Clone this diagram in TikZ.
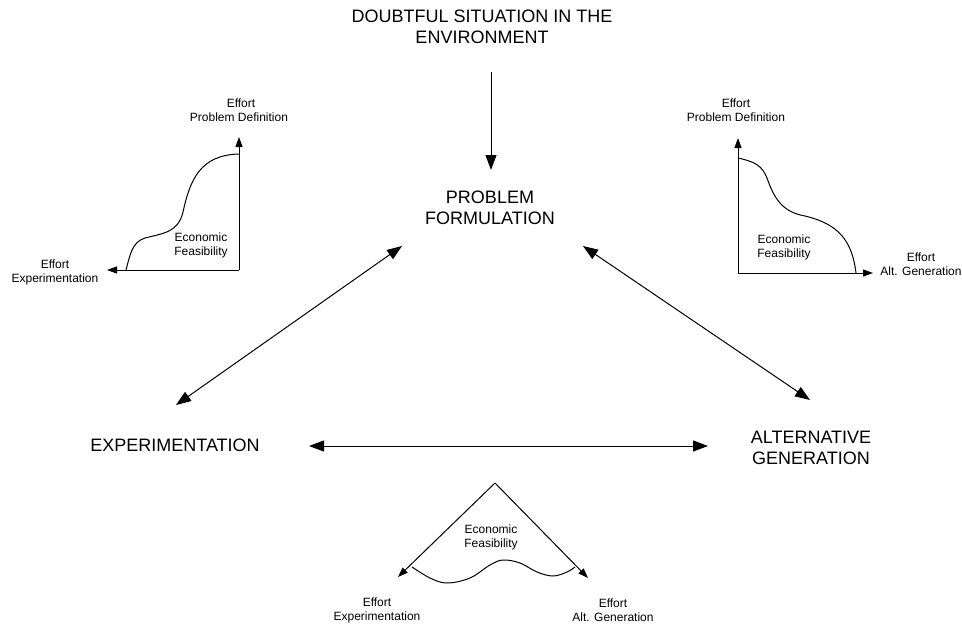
\documentclass[tikz,border=0pt]{standalone}
\usepackage{fontspec}
\setmainfont{Liberation Sans}
\usetikzlibrary{arrows.meta}
\begin{document}
\begin{tikzpicture}[x=1pt,y=-1pt,
  big/.style={font=\fontsize{18}{20.5}\selectfont, align=center, inner sep=0pt},
  small/.style={font=\fontsize{12}{14}\selectfont, align=center, inner sep=0pt},
  conn/.style={line width=1pt, {Triangle[length=15pt,width=11pt]}-{Triangle[length=15pt,width=11pt]}},
  oneway/.style={line width=1pt, -{Triangle[length=15pt,width=11pt]}},
  axis/.style={line width=1pt, -{Triangle[length=10pt,width=7pt]}},
  curve/.style={line width=1pt}]
\useasboundingbox[fill=white] (0,0) rectangle (962,626);

% main nodes
\node[big] (doubt) at (482,27) {DOUBTFUL SITUATION IN THE\\ENVIRONMENT};
\node[big] (pf) at (490,208) {PROBLEM\\FORMULATION};
\node[big] (exp) at (175,445) {EXPERIMENTATION};
\node[big] (alt) at (811,448) {ALTERNATIVE\\GENERATION};

% connector ends
\coordinate (d1) at (491,72);
\coordinate (p0) at (491,170);
\coordinate (e1) at (176,405);
\coordinate (p1) at (402,246);
\coordinate (p2) at (583,246);
\coordinate (a1) at (810,400);
\coordinate (e2) at (309,446);
\coordinate (a2) at (708,446);

\draw[oneway] (d1) -- (p0);
\draw[conn] (e1) -- (p1);
\draw[conn] (p2) -- (a1);
\draw[conn] (e2) -- (a2);

% left graph
\coordinate (o1) at (239,270);
\coordinate (o1y) at (239,137);
\coordinate (o1x) at (107,270);
\draw[axis] (o1) -- (o1y);
\draw[axis] (o1) -- (o1x);
\draw[curve] (126,270) .. controls (130,255) and (132,242) .. (145,238)
  .. controls (165,233) and (178,232) .. (183,212)
  .. controls (190,180) and (200,155) .. (239,154);
\node[small] (l1a) at (241,103) {Effort};
\node[small] (l1b) at (239,117) {Problem Definition};
\node[small] (l1c) at (201,245) {Economic\\Feasibility};
\node[small] (l1d) at (55,272.5) {Effort\\Experimentation};

% right graph
\coordinate (o2) at (738,273);
\coordinate (o2y) at (738,138);
\coordinate (o2x) at (873,273);
\draw[axis] (o2) -- (o2y);
\draw[axis] (o2) -- (o2x);
\draw[curve] (738,158) .. controls (756,162) and (762,166) .. (767,178)
  .. controls (774,198) and (782,212) .. (805,216)
  .. controls (838,224) and (852,240) .. (856,273);
\node[small] (r1a) at (736,103) {Effort};
\node[small] (r1b) at (736,117) {Problem Definition};
\node[small] (r1c) at (784,247) {Economic\\Feasibility};
\node[small] (r1d) at (921,264) {Effort\\Alt. Generation};

% bottom graph
\coordinate (o3) at (495,483);
\coordinate (o3l) at (398,577);
\coordinate (o3r) at (588,578);
\draw[axis] (o3) -- (o3l);
\draw[axis] (o3) -- (o3r);
\draw[curve] plot[smooth, tension=0.6] coordinates {(412,567) (430,578) (447,583) (470,578) (490,565) (503,560) (520,563) (537,572) (553,576) (567,572) (575,567)};
\node[small] (b1c) at (491,537) {Economic\\Feasibility};
\node[small] (b1d) at (377,610) {Effort\\Experimentation};
\node[small] (b1e) at (613,610) {Effort\\Alt. Generation};
\end{tikzpicture}
\end{document}
